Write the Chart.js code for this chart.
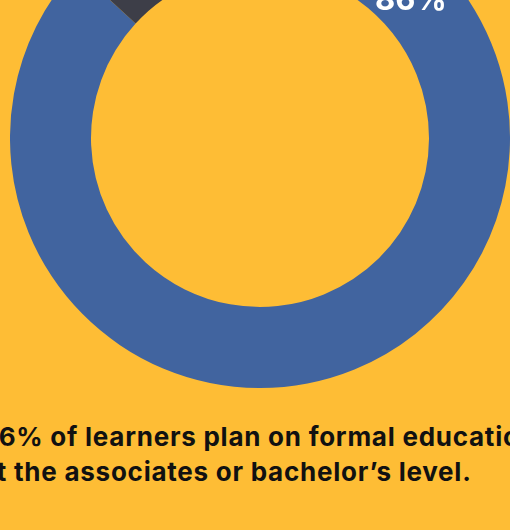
<!DOCTYPE html>
<html>
<head>
<meta charset="utf-8">
<script src="https://cdn.jsdelivr.net/npm/chart.js@4"></script>
<style>
  html, body { margin: 0; padding: 0; }
  body {
    width: 510px; height: 530px; overflow: hidden; position: relative;
    background: #FEBD35;
  }
  #wrap { position: absolute; left: 10px; top: -112px; width: 500px; height: 500px; }
  #caption {
    position: absolute; left: -19px; top: 419px; width: 700px;
    font-family: "Inter", "Noto Sans", sans-serif; font-weight: 700;
    font-size: 26px; line-height: 35px; color: #111; white-space: nowrap;
    letter-spacing: 0.75px;
  }
</style>
</head>
<body>
<div id="wrap"><canvas id="donut"></canvas></div>
<div id="caption">86% of learners plan on formal education<br>at the associates or bachelor’s level.</div>
<script>
// 数据
const labels = ['Formal education', 'Other'];
const values = [86, 14];
const colors = ['#41649F', '#3D3E48'];

// 在环上绘制百分比文字
const pctLabels = {
    id: 'pctLabels',
    afterDatasetsDraw(chart) {
        const ctx = chart.ctx;
        const arcs = chart.getDatasetMeta(0).data;
        ctx.save();
        ctx.fillStyle = '#fff';
        ctx.font = '700 31px Inter, "Noto Sans", sans-serif';
        ctx.textAlign = 'center';
        ctx.textBaseline = 'middle';
        arcs.forEach((arc, i) => {
            const p = arc.getProps(['x', 'y', 'startAngle', 'endAngle', 'innerRadius', 'outerRadius'], true);
            // 主扇区的标签放在右上方，其余放在扇区中间
            const a = i === 0 ? p.startAngle + 0.78 : (p.startAngle + p.endAngle) / 2;
            const r = i === 0 ? 204 : (p.innerRadius + p.outerRadius) / 2;
            ctx.fillText(values[i] + '%', p.x + Math.cos(a) * r, p.y + Math.sin(a) * r);
        });
        ctx.restore();
    }
};

new Chart(document.getElementById('donut'), {
    type: 'doughnut',
    data: {
        labels: labels,
        datasets: [{
            data: values,
            backgroundColor: colors,
            borderWidth: 0
        }]
    },
    options: {
        responsive: true,
        maintainAspectRatio: false,
        animation: false,
        rotation: 3,
        cutout: '67.6%',
        layout: { padding: 0 },
        plugins: {
            legend: { display: false },
            tooltip: { enabled: false }
        }
    },
    plugins: [pctLabels]
});
</script>
</body>
</html>
